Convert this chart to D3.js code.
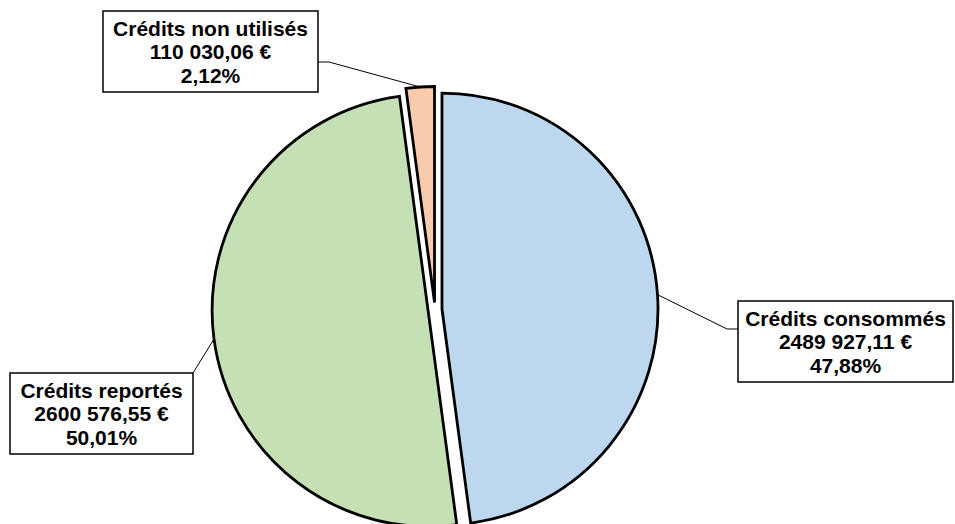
<!DOCTYPE html>
<html><head><meta charset="utf-8">
<script src="https://cdn.jsdelivr.net/npm/d3@7"></script>
<style>html,body{margin:0;padding:0;background:#fff;}svg{display:block;}</style>
</head><body>
<svg id="chart" width="955" height="524"></svg>
<script>
const categories = ["Crédits consommés", "Crédits reportés", "Crédits non utilisés"];
const amounts = [2489927.11, 2600576.55, 110030.06];
const colors = ["#BDD7EE", "#C5E0B4", "#F8CBAD"];

// label box layout (x, y, width) per category
const boxes = [
  {x: 738, y: 301, w: 215, elbowX: 727},
  {x: 10, y: 373, w: 183, elbowX: null},
  {x: 103, y: 11, w: 215, elbowX: 329}
];

const W = 955, H = 524;
const cx = 435, cy = 309.5, R = 216, explode = 7;
const svg = d3.select("#chart");
const total = d3.sum(amounts);

function fmtAmount(v) {
  const [ip, dp] = v.toFixed(2).split(".");
  const head = ip.length > 3 ? ip.slice(0, ip.length - 3) + " " + ip.slice(-3) : ip;
  return head + "," + dp + " €";
}
function fmtPct(v) { return (v * 100).toFixed(2).replace(".", ",") + "%"; }

const data = categories.map((c, i) => ({name: c, value: amounts[i], color: colors[i], box: boxes[i]}));
const pie = d3.pie().sort(null).value(d => d.value).startAngle(0).endAngle(2 * Math.PI);
const arcs = pie(data);
const arc = d3.arc().innerRadius(0).outerRadius(R);

const g = svg.append("g").attr("transform", `translate(${cx},${cy})`);

arcs.forEach(a => {
  const mid = (a.startAngle + a.endAngle) / 2;
  const ox = Math.sin(mid) * explode, oy = -Math.cos(mid) * explode;
  a.ox = ox; a.oy = oy; a.mid = mid;
  g.append("path")
    .attr("d", arc(a))
    .attr("transform", `translate(${ox},${oy})`)
    .attr("fill", a.data.color)
    .attr("stroke", "#000")
    .attr("stroke-width", 2.8)
    .attr("stroke-linejoin", "miter");
});

// leader lines and label boxes
const lineH = 23.5;
arcs.forEach(a => {
  const b = a.data.box;
  const px = cx + a.ox + Math.sin(a.mid) * R;
  const py = cy + a.oy - Math.cos(a.mid) * R;
  const boxH = 81;
  let pts;
  if (a.data.box.x > cx) {
    const ly = b.y + 28;
    pts = [[px, py], [b.elbowX, ly], [b.x, ly]];
  } else if (b.y < cy - 100) {
    const ly = b.y + 51;
    pts = [[px, py], [b.elbowX, ly], [b.x + b.w, ly]];
  } else {
    pts = [[px, py], [b.x + b.w, b.y]];
  }
  svg.append("path")
    .attr("d", d3.line()(pts))
    .attr("fill", "none")
    .attr("stroke", "#000")
    .attr("stroke-width", 1);

  svg.append("rect")
    .attr("x", b.x).attr("y", b.y)
    .attr("width", b.w).attr("height", boxH)
    .attr("fill", "#fff")
    .attr("stroke", "#000")
    .attr("stroke-width", 1.5);

  const lines = [a.data.name, fmtAmount(a.data.value), fmtPct(a.data.value / total)];
  const t = svg.append("text")
    .attr("text-anchor", "middle")
    .attr("font-family", "'Liberation Sans', Arial, sans-serif")
    .attr("font-weight", "bold")
    .attr("font-size", 21)
    .attr("fill", "#000");
  lines.forEach((s, i) => {
    t.append("tspan")
      .attr("x", b.x + b.w / 2)
      .attr("y", b.y + 24.5 + i * lineH)
      .text(s);
  });
});
</script>
</body></html>
